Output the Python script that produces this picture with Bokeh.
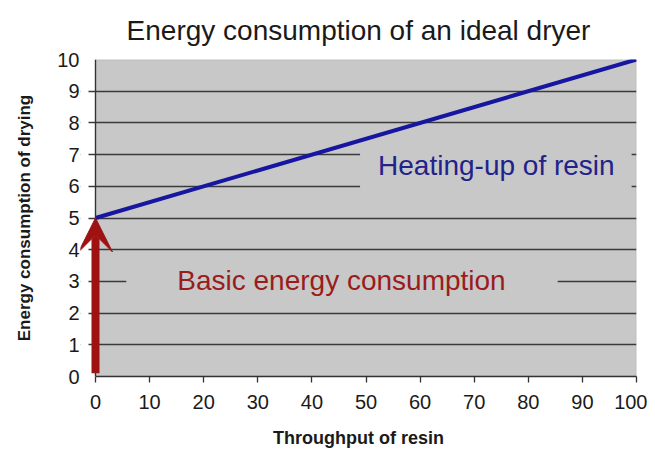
from bokeh.plotting import figure
from bokeh.models import Arrow, VeeHead, Label, FixedTicker, Range1d, BoxAnnotation, Span
from bokeh.embed import file_html
from bokeh.resources import INLINE

throughput = [0, 100]
energy = [5, 10]
basic_x = [0, 0]
basic_y = [0.1, 5]
x_ticks = [0, 10, 20, 30, 40, 50, 60, 70, 80, 90, 100]
y_ticks = [0, 1, 2, 3, 4, 5, 6, 7, 8, 9, 10]

FONT = "Liberation Sans"
BG = "#c8c8c8"
PX = 5.41                 # px per x unit
FRAME_PAD = 15 / PX       # frame extends left of the axis so the arrow head is not clipped
TICK_LEN = 7 / PX         # visible part of the grid lines left of the axis (tick marks)

p = figure(width=647, height=450, output_backend="svg", toolbar_location=None,
           x_range=Range1d(x_ticks[0] - FRAME_PAD, x_ticks[-1]),
           y_range=Range1d(y_ticks[0], y_ticks[-1]),
           min_border_left=80, min_border_right=11, min_border_top=59, min_border_bottom=74,
           title="Energy consumption of an ideal dryer")
p.title.text_font = FONT
p.title.text_font_size = "28px"
p.title.text_font_style = "normal"
p.title.text_color = "#1a1a1a"
p.title.align = "center"
p.title.vertical_align = "top"
p.title.text_line_height = 1.0
p.title.standoff = 24

p.background_fill_color = "white"
p.border_fill_color = "white"
p.outline_line_color = None

# gray plot area starting at the axis origin
p.add_layout(BoxAnnotation(left=x_ticks[0], fill_color=BG, fill_alpha=1,
                           line_color="#808080", line_width=1.5, level="image"))
# white mask hiding the grid lines left of the tick length
p.add_layout(BoxAnnotation(right=x_ticks[0] - TICK_LEN, fill_color="white", fill_alpha=1,
                           line_color=None, level="glyph"))

p.xgrid.grid_line_color = None
p.ygrid.grid_line_color = "#3a3a3a"
p.ygrid.grid_line_width = 1.3
p.ygrid.ticker = FixedTicker(ticks=y_ticks)

p.xaxis.ticker = FixedTicker(ticks=x_ticks)
p.yaxis.ticker = FixedTicker(ticks=y_ticks)
for ax in (p.xaxis[0], p.yaxis[0]):
    ax.axis_line_color = "#333333"
    ax.axis_line_width = 1.3
    ax.major_tick_line_color = "#333333"
    ax.major_tick_line_width = 1.3
    ax.major_tick_out = 6
    ax.major_tick_in = 0
    ax.minor_tick_line_color = None
    ax.major_label_text_font = FONT
    ax.major_label_text_font_size = "20px"
    ax.major_label_text_color = "#1a1a1a"
    ax.axis_label_text_font = FONT
    ax.axis_label_text_font_style = "bold"
    ax.axis_label_text_color = "#1a1a1a"

p.xaxis.bounds = (x_ticks[0], x_ticks[-1])
p.yaxis.axis_line_color = None
p.yaxis.major_tick_line_color = None
p.yaxis.major_tick_out = 0

p.xaxis.axis_label = "Throughput of resin"
p.xaxis.axis_label_text_font_size = "18px"
p.xaxis.major_label_standoff = 12
p.xaxis.axis_label_standoff = 16
p.yaxis.axis_label = "Energy consumption of drying"
p.yaxis.axis_label_text_font_size = "17px"
p.yaxis.major_label_standoff = 1
p.yaxis.axis_label_standoff = 20

# y axis line at the origin
p.add_layout(Span(location=x_ticks[0], dimension="height", line_color="#333333", line_width=1.3))

p.line(throughput, energy, line_color="#1616a0", line_width=4)

p.add_layout(Arrow(x_start=basic_x[0], y_start=basic_y[0], x_end=basic_x[1], y_end=basic_y[1],
                   line_color="#9e1212", line_width=8,
                   end=VeeHead(size=34, fill_color="#9e1212", line_color="#9e1212", line_width=1)))

p.add_layout(Label(x=74, y=6.56, text="Heating-up of resin", text_align="center",
                   text_baseline="middle", text_font=FONT, text_font_size="28px",
                   text_color="#22228a", background_fill_color=BG,
                   padding=dict(left=18, right=17, top=6, bottom=12)))
p.add_layout(Label(x=45.56, y=3.03, text="Basic energy consumption", text_align="center",
                   text_baseline="middle", text_font=FONT, text_font_size="28px",
                   text_color="#9a1c1c", background_fill_color=BG,
                   padding=dict(left=51, right=52, top=6, bottom=6)))

open("out.html", "w").write(file_html(p, INLINE))
